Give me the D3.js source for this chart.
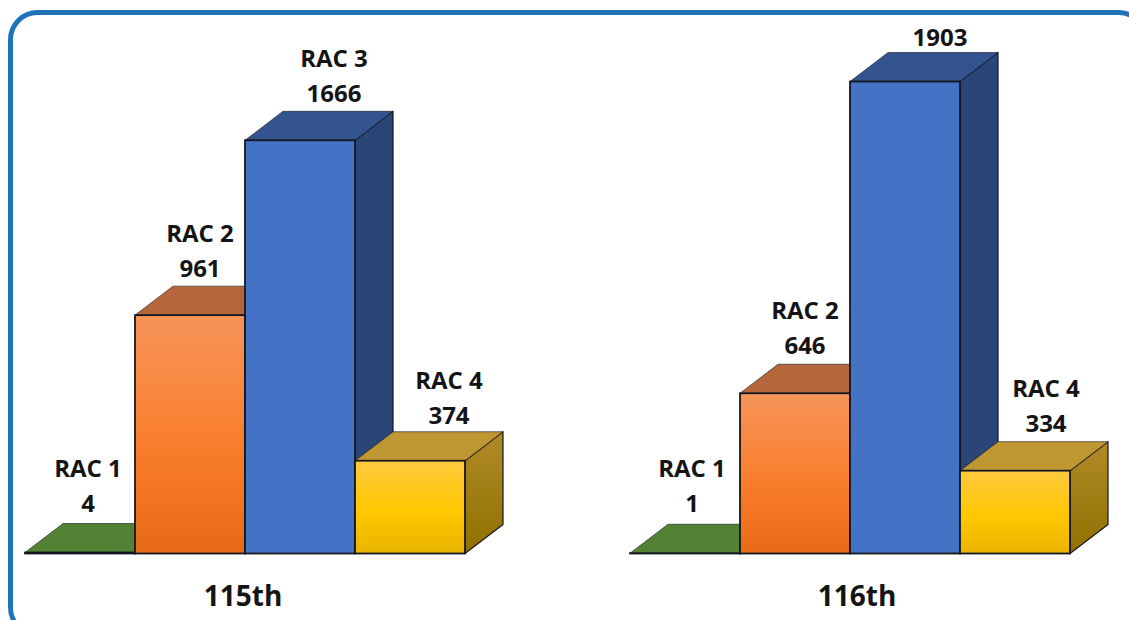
<!DOCTYPE html>
<html>
<head>
<meta charset="utf-8">
<style>
  html, body { margin: 0; padding: 0; background: #fff; overflow: hidden; }
  svg { display: block; }
  text { font-family: "Open Sans", "Noto Sans", sans-serif; font-weight: 700; fill: #141414; text-anchor: middle; dominant-baseline: central; }
</style>
<script src="https://cdn.jsdelivr.net/npm/d3@7/dist/d3.min.js"></script>
</head>
<body>
<script>
// Reported counts per congress, by RAC group
const congresses = ["115th", "116th"];
const racGroups = ["RAC 1", "RAC 2", "RAC 3", "RAC 4"];
const counts115 = [4, 961, 1666, 374];
const counts116 = [1, 646, 1903, 334];

// Layout, kept apart from the values
const width = 1129, height = 620;
const baseY = 553.5, topY = 81.5;
const depthX = 38, depthY = 29;
const panelStarts = [25, 630];
const panelWidth = 440;
const labelShiftX = [[-11, -9, 15, 20], [-12, -9, 16, 12]];
const labelLift = [[-21.5, -18.5, -18.5, -17.5], [-21.5, -19.5, -16.5, -19.5]];
const congressCentres = [243, 857];

// Bar face colours; gradient stops run top to bottom
const faces = [
  { top: "#548235", side: "#3f6327", front: ["#548235", "#548235", "#548235"] },
  { top: "#b5663b", side: "#a85520", front: ["#f79459", "#f97e2c", "#e86a16"] },
  { top: "#33548f", side: "#2a4679", front: ["#4472c4", "#4472c4", "#4472c4"] },
  { top: "#bf9732", side: "#a07a10", front: ["#ffc93f", "#ffc800", "#e9b400"] }
];

const svg = d3.select("body").append("svg").attr("width", width).attr("height", height);
const defs = svg.append("defs");

faces.forEach((f, i) => {
  const g = defs.append("linearGradient")
    .attr("id", "front" + i).attr("x1", 0).attr("y1", 0).attr("x2", 0).attr("y2", 1);
  [0, 0.55, 1].forEach((o, k) => g.append("stop").attr("offset", o).attr("stop-color", f.front[k]));
});
const sideGrad = defs.append("linearGradient")
  .attr("id", "sideGold").attr("x1", 0).attr("y1", 0).attr("x2", 0).attr("y2", 1);
sideGrad.append("stop").attr("offset", 0).attr("stop-color", "#b08a28");
sideGrad.append("stop").attr("offset", 1).attr("stop-color", "#917000");

// Rounded frame, running past the right and bottom edges of the page
svg.append("rect")
  .attr("x", 10.5).attr("y", 12.5)
  .attr("width", 1135).attr("height", 622)
  .attr("rx", 27).attr("ry", 27)
  .attr("fill", "#fff").attr("stroke", "#2072b9").attr("stroke-width", 5);

const y = d3.scaleLinear().domain([0, 1903]).range([baseY, topY]);
const line = d3.line();
const outline = "#14171f";

[counts115, counts116].forEach((counts, c) => {
  const x = d3.scaleBand().domain(racGroups)
    .range([panelStarts[c], panelStarts[c] + panelWidth]);
  const panel = svg.append("g");

  const bars = panel.selectAll("g.bar")
    .data(racGroups.map((name, i) => ({ name, i, value: counts[i] })))
    .join("g").attr("class", "bar");

  // Side face
  bars.append("path")
    .attr("d", d => {
      const r = x(d.name) + x.bandwidth(), t = y(d.value);
      return line([[r, t], [r + depthX, t - depthY], [r + depthX, baseY - depthY], [r, baseY]]) + "Z";
    })
    .attr("fill", d => d.i === 3 ? "url(#sideGold)" : faces[d.i].side)
    .attr("stroke", outline).attr("stroke-width", 1.2).attr("stroke-linejoin", "round");

  // Top face
  bars.append("path")
    .attr("d", d => {
      const l = x(d.name), r = l + x.bandwidth(), t = y(d.value);
      return line([[l, t], [l + depthX, t - depthY], [r + depthX, t - depthY], [r, t]]) + "Z";
    })
    .attr("fill", d => faces[d.i].top)
    .attr("stroke", outline).attr("stroke-opacity", 0.6).attr("stroke-width", 1).attr("stroke-linejoin", "round");

  // Front face
  bars.append("rect")
    .attr("x", d => x(d.name))
    .attr("y", d => y(d.value))
    .attr("width", x.bandwidth())
    .attr("height", d => baseY - y(d.value))
    .attr("fill", d => `url(#front${d.i})`)
    .attr("stroke", outline).attr("stroke-width", 1.8);

  const labelX = d => x(d.name) + x.bandwidth() / 2 + depthX / 2 + labelShiftX[c][d.i];
  const labelY = d => y(d.value) - depthY + labelLift[c][d.i];

  // Value labels above each bar's back edge
  bars.append("text")
    .attr("x", labelX)
    .attr("y", labelY)
    .attr("font-size", 24)
    .text(d => d.value);

  // Group names above the values; the tallest bar of the second panel has no room for one
  bars.filter(d => labelY(d) - 35 > 15).append("text")
    .attr("x", labelX)
    .attr("y", d => labelY(d) - 35)
    .attr("font-size", 24)
    .text(d => d.name);

  // Congress label under the panel
  panel.append("text")
    .attr("x", congressCentres[c])
    .attr("y", 595)
    .attr("font-size", 28)
    .text(congresses[c]);
});
</script>
</body>
</html>
